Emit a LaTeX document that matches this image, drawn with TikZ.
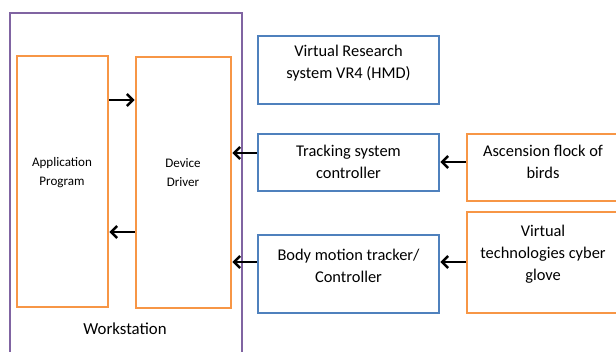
\documentclass[tikz,border=0pt]{standalone}
\usepackage{fontspec}
\setmainfont{Carlito}
\usetikzlibrary{arrows.meta,fit}
\definecolor{wpurple}{HTML}{8064A2}
\definecolor{worange}{HTML}{F79646}
\definecolor{wblue}{HTML}{4F81BD}
\tikzset{
  obox/.style={draw=worange,line width=2.1pt,inner sep=0pt},
  bbox/.style={draw=wblue,line width=2.1pt,inner sep=0pt},
  txt/.style={align=center,inner sep=0pt,font=\fontsize{12.3}{16.5}\selectfont},
  stxt/.style={align=center,inner sep=0pt,font=\fontsize{9.8}{14.2}\selectfont},
  arr/.style={-{Straight Barb[length=4.5pt,width=9pt,line width=1.8pt]},line width=2pt,black},
}
\begin{document}
\begin{tikzpicture}[x=0.75pt,y=-0.75pt]
\useasboundingbox (0,0) rectangle (616,351);
\clip (0,0) rectangle (616,351);
% workstation frame
\draw[wpurple,line width=2.2pt] (10,360) -- (10,13) -- (242,13) -- (242,360);
\node[txt,font=\fontsize{12.6}{16.5}\selectfont] (ws) at (125,329) {Workstation};
% boxes
\node[obox,fit={(17,56) (108,307)}] (app) {};
\node[obox,fit={(136,57) (231,308)}] (drv) {};
\node[bbox,fit={(258,36) (439,104)}] (vr) {};
\node[bbox,fit={(258,134) (439,191)}] (trk) {};
\node[bbox,fit={(258,235) (439,313)}] (bod) {};
\node[obox,fit={(467,134) (630,201)}] (asc) {};
\node[obox,fit={(467,212) (630,313)}] (glv) {};
% texts
\node[stxt] (appt) at (62,173) {Application\\Program};
\node[stxt] (drvt) at (183,173) {Device\\Driver};
\node[txt] (vrt) at (348.5,63) {Virtual Research\\system VR4 (HMD)};
\node[txt] (trkt) at (348.5,162) {Tracking system\\controller};
\node[txt] (bodt) at (348.5,265.5) {Body motion tracker/\\Controller};
\node[txt] (asct) at (543,162) {Ascension flock of\\birds};
\node[txt] (glvt) at (543,254) {Virtual\\technologies cyber\\glove};
% arrows
\draw[arr] (app.east |- 0,100) -- (drv.west |- 0,100);
\draw[arr] (drv.west |- 0,232) -- (app.east |- 0,232);
\draw[arr] (trk.west |- 0,153) -- (drv.east |- 0,153);
\draw[arr] (bod.west |- 0,262) -- (drv.east |- 0,262);
\draw[arr] (asc.west |- 0,162) -- (trk.east |- 0,162);
\draw[arr] (glv.west |- 0,262) -- (bod.east |- 0,262);
\end{tikzpicture}
\end{document}
